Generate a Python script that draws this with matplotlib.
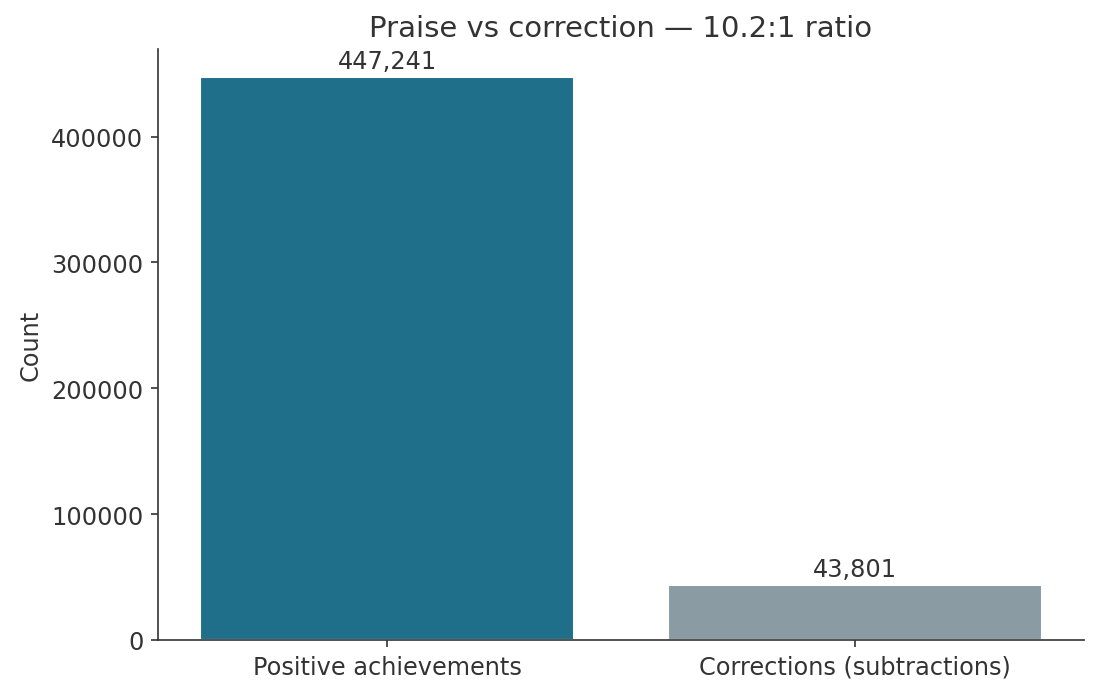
import matplotlib
matplotlib.use("Agg")
import matplotlib.pyplot as plt
import seaborn as sns

labels = ["Positive achievements", "Corrections (subtractions)"]
counts = [447241, 43801]
colors = ["#1f6f8b", "#8a9ba3"]

sns.set_style("ticks")
plt.rcParams['font.family'] = ['DejaVu Sans']
dark = "#333333"
plt.rcParams.update({"text.color": dark, "axes.labelcolor": dark,
                     "xtick.color": dark, "ytick.color": dark,
                     "axes.edgecolor": dark})

fig, ax = plt.subplots(figsize=(7.333, 4.653), dpi=150)
bars = ax.bar(labels, counts, color=colors, width=0.8)
for b, c in zip(bars, counts):
    ax.annotate(f"{c:,}", (b.get_x() + b.get_width() / 2, b.get_height()),
                xytext=(0, 2), textcoords="offset points",
                ha="center", va="bottom", fontsize=11.5)
ax.set_xlim(-0.49, 1.49)
ax.set_ylabel("Count", fontsize=11.5)
ax.set_title("Praise vs correction \u2014 10.2:1 ratio", fontsize=14)
ax.tick_params(labelsize=11.5)
sns.despine(ax=ax)
fig.subplots_adjust(left=0.1436, right=0.9855, top=0.9284, bottom=0.0817)
fig.savefig("out.png")
